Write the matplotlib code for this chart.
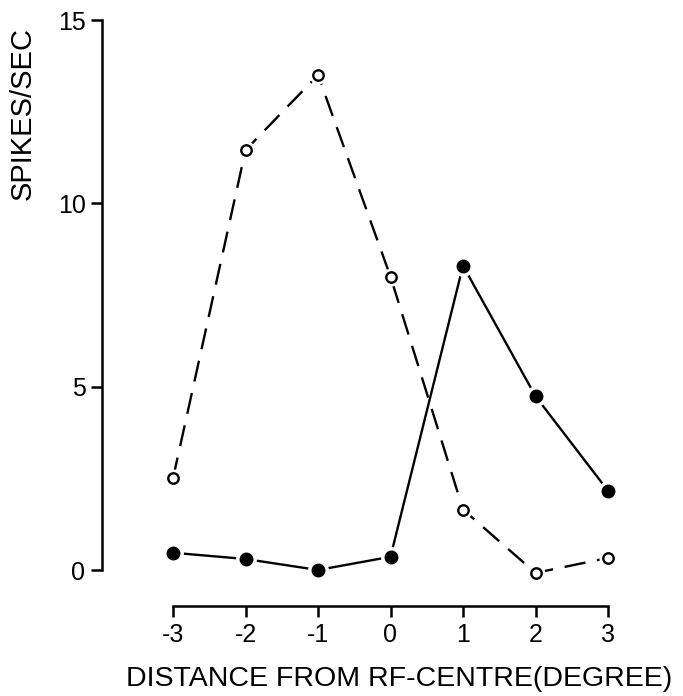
import matplotlib.pyplot as plt

plt.rcParams['font.family'] = ['Liberation Sans', 'DejaVu Sans']

distance = [-3, -2, -1, 0, 1, 2, 3]
open_rate = [2.5, 11.45, 13.5, 8.0, 1.65, -0.08, 0.33]
filled_rate = [0.47, 0.3, 0.0, 0.36, 8.3, 4.74, 2.16]
x_ticks = [-3, -2, -1, 0, 1, 2, 3]
y_ticks = [0, 5, 10, 15]

fig = plt.figure(figsize=(6.83, 6.96), dpi=100)
ax = fig.add_axes([173 / 683, 126 / 696, 435 / 683, 550 / 696])

# dashed curve with open circles
ax.plot(distance, open_rate, color='black', lw=1.7, dashes=(9, 5), clip_on=False)
# solid curve with filled circles
ax.plot(distance, filled_rate, color='black', lw=1.7, clip_on=False)

# white halos so the lines stop short of the markers
ax.plot(distance, open_rate, 'o', color='white', ms=12, mec='white', clip_on=False)
ax.plot(distance, filled_rate, 'o', color='white', ms=14, mec='white', clip_on=False)
ax.plot(distance, open_rate, 'o', mfc='white', mec='black', mew=1.7, ms=7.5, clip_on=False)
ax.plot(distance, filled_rate, 'o', color='black', ms=9, clip_on=False)

ax.set_xlim(-3, 3)
ax.set_ylim(0, 15)
ax.set_xticks(x_ticks)
ax.set_xticklabels([str(v) for v in x_ticks])
ax.set_yticks(y_ticks)

for side in ['top', 'right']:
    ax.spines[side].set_visible(False)
ax.spines['left'].set_position(('outward', 51))
ax.spines['bottom'].set_position(('outward', 26))
ax.spines['left'].set_linewidth(1.8)
ax.spines['bottom'].set_linewidth(1.8)
ax.tick_params(axis='both', direction='out', length=8, width=1.8, labelsize=18)
ax.tick_params(axis='x', pad=4)
ax.tick_params(axis='y', pad=4)

ax.set_xlabel('DISTANCE FROM RF-CENTRE(DEGREE)', fontsize=20.5)
ax.xaxis.set_label_coords(0.52, -0.174)
ax.set_ylabel('SPIKES/SEC', fontsize=21)
ax.yaxis.set_label_coords(-0.313, 0.83)

fig.savefig('out.png', dpi=100)
